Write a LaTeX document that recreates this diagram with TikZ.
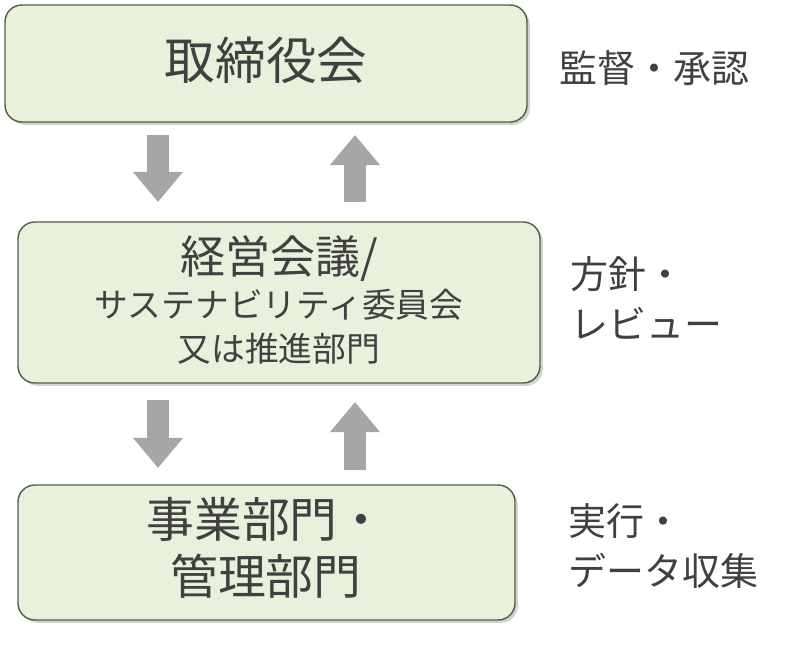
\documentclass[tikz,border=0pt]{standalone}
\usepackage{fontspec}
\setmainfont{Noto Sans CJK JP}
\usetikzlibrary{arrows.meta,shadows}
\definecolor{boxfill}{RGB}{232,241,220}
\definecolor{boxline}{RGB}{80,95,70}
\definecolor{txt}{RGB}{64,64,64}
\definecolor{flow}{RGB}{166,166,166}
\tikzset{box/.style={draw=boxline, line width=1pt, fill=boxfill, rounded corners=12pt,
    drop shadow={shadow xshift=2pt, shadow yshift=-2pt, opacity=.35}, text=txt, align=center},
  flowarrow/.style={flow, line width=0.55cm, -{Triangle[width=1.2cm,length=0.75cm]}},
  note/.style={text=txt, font=\fontsize{27}{36}\selectfont, align=left, anchor=west}}
\begin{document}
\begin{tikzpicture}[x=0.025cm,y=-0.025cm]
  \useasboundingbox (0,0) rectangle (804,657);
  \draw[box] (5,5) rectangle (527,122);
  \node[text=txt, font=\fontsize{36}{40}\selectfont] (board) at (266,60) {取締役会};
  \draw[box] (18,222) rectangle (540,383);
  \node[text=txt, align=center, font=\fontsize{24}{31}\selectfont] (exec) at (279,300)
    {{\fontsize{32}{34}\selectfont 経営会議/}\\サステナビリティ委員会\\又は推進部門};
  \draw[box] (18,485) rectangle (515,620);
  \node[text=txt, align=center, font=\fontsize{34}{41}\selectfont] (dept) at (266,548)
    {事業部門・\\管理部門};

  %% flows
  \coordinate (d1s) at (158,135); \coordinate (d1e) at (158,202);
  \coordinate (u1s) at (355,202); \coordinate (u1e) at (355,135);
  \coordinate (d2s) at (158,400); \coordinate (d2e) at (158,468);
  \coordinate (u2s) at (355,470); \coordinate (u2e) at (355,402);
  \draw[flowarrow] (d1s) -- (d1e);
  \draw[flowarrow] (u1s) -- (u1e);
  \draw[flowarrow] (d2s) -- (d2e);
  \draw[flowarrow] (u2s) -- (u2e);

  %% notes
  \node[note] (n1) at (555,68) {監督・承認};
  \node[note] (n2) at (566,298) {方針・\\レビュー};
  \node[note] (n3) at (564,546) {実行・\\データ収集};
\end{tikzpicture}
\end{document}
